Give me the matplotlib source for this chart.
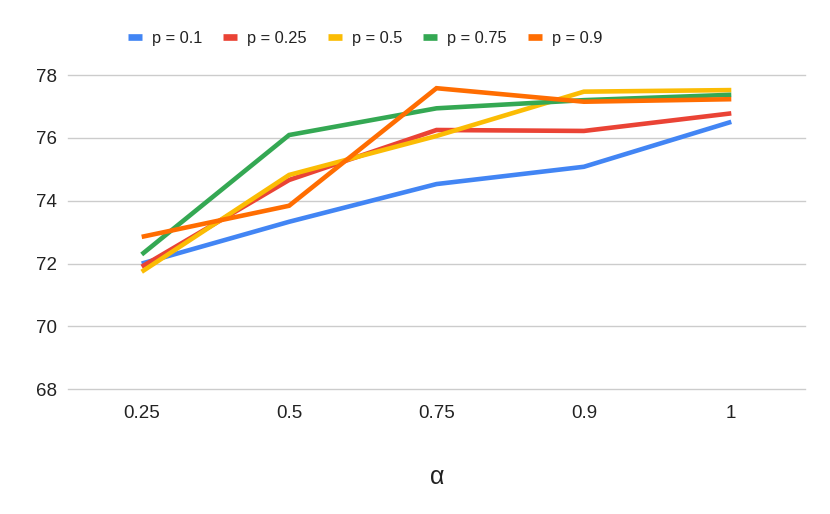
import matplotlib
matplotlib.use("Agg")
import matplotlib.pyplot as plt
from matplotlib.lines import Line2D

plt.rcParams['font.family'] = ['Liberation Sans', 'DejaVu Sans']

alphas = ["0.25", "0.5", "0.75", "0.9", "1"]
series_names = ["p = 0.1", "p = 0.25", "p = 0.5", "p = 0.75", "p = 0.9"]
p01 = [72.00, 73.33, 74.53, 75.08, 76.51]
p025 = [71.90, 74.66, 76.25, 76.22, 76.78]
p05 = [71.74, 74.82, 76.06, 77.47, 77.52]
p075 = [72.29, 76.09, 76.94, 77.20, 77.37]
p09 = [72.85, 73.84, 77.58, 77.15, 77.23]
colors = ["#4285F4", "#EA4335", "#FBBC04", "#34A853", "#FF6D01"]
yticks = [68, 70, 72, 74, 76, 78]

W, H = 830, 514
fig = plt.figure(figsize=(W / 100, H / 100), dpi=100)
ax = fig.add_axes([68 / W, 1 - 389.3 / H, (805 - 68) / W, (389.3 - 75) / H])

xs = list(range(len(alphas)))
handles = []
for vals, name, c in zip([p01, p025, p05, p075, p09], series_names, colors):
    ax.plot(xs, vals, color=c, lw=3.3, solid_joinstyle='miter', solid_capstyle='butt')
    handles.append(Line2D([], [], color=c, lw=4.8, solid_capstyle='butt'))

ax.set_xlim(-0.5, len(alphas) - 0.5)
ax.set_ylim(68, 78)
ax.set_yticks(yticks)
ax.set_yticklabels([str(v) for v in yticks])
ax.set_xticks(xs)
ax.set_xticklabels(alphas)
ax.tick_params(axis='both', length=0, labelsize=13.5, colors='#222222')
ax.tick_params(axis='y', pad=8)
ax.tick_params(axis='x', pad=11)
ax.grid(axis='y', color='#cccccc', lw=1.0)
for gl in ax.get_ygridlines():
    gl.set_clip_on(False)
ax.set_axisbelow(True)
for s in ax.spines.values():
    s.set_visible(False)

fig.text(437 / W, 1 - 477 / H, "α", ha='center', va='center', fontsize=18, color='#222222')

fig.legend(handles, series_names, loc='center', bbox_to_anchor=(365 / W, 1 - 38 / H),
           ncol=5, frameon=False, fontsize=11.8, handlelength=0.85, handletextpad=0.6,
           columnspacing=1.3, borderaxespad=0, labelcolor='#222222')

fig.savefig("out.png", dpi=100)
